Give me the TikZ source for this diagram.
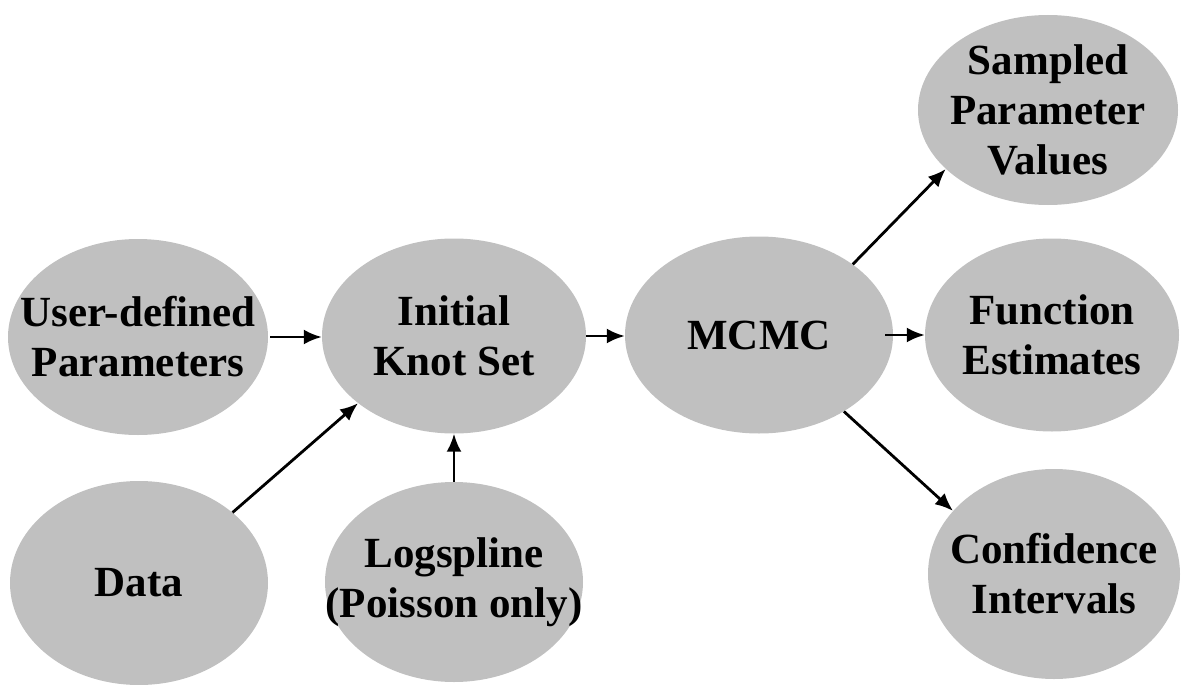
\documentclass[tikz,border=0pt]{standalone}
\usepackage{fontspec}
\setmainfont{Liberation Serif}
\usetikzlibrary{shapes.geometric,arrows.meta}
\definecolor{ellgray}{RGB}{192,192,192}
\tikzset{
  x=1pt,y=-1pt,
  blob/.style={ellipse,fill=ellgray,draw=none,inner sep=0pt},
  blobtext/.style={align=center,font=\fontsize{43}{50}\selectfont\bfseries,text=black},
  conn/.style={line width=2.8pt,-{Latex[length=18pt,width=15pt]},black},
}
\begin{document}
\begin{tikzpicture}
\useasboundingbox (0,0) rectangle (1181,685);
\node[blob,minimum width=260pt,minimum height=196pt,label={[blobtext]center:User-defined\\Parameters}] (user) at (138,337) {};
\node[blob,minimum width=264pt,minimum height=195pt,label={[blobtext]center:Initial\\Knot Set}] (init) at (454,336) {};
\node[blob,minimum width=268pt,minimum height=197pt,label={[blobtext]center:MCMC}] (mcmc) at (759,335) {};
\node[blob,minimum width=260pt,minimum height=190pt,label={[blobtext]center:Sampled\\Parameter\\Values}] (samp) at (1048,110) {};
\node[blob,minimum width=254pt,minimum height=193pt,label={[blobtext]center:Function\\Estimates}] (func) at (1052,335) {};
\node[blob,minimum width=252pt,minimum height=210pt,label={[blobtext]center:Confidence\\Intervals}] (conf) at (1054,574) {};
\node[blob,minimum width=258pt,minimum height=204pt,label={[blobtext]center:Data}] (data) at (139,583) {};
\node[blob,minimum width=258pt,minimum height=200pt,label={[blobtext]center:Logspline\\(Poisson only)}] (logs) at (454,582) {};
\draw[conn,shorten <=2pt] (user.east) -- (user.east -| init.west);
\draw[conn] (data.37) -- (init.215);
\draw[conn] (logs.north) -- (init.south);
\draw[conn] (init.east) -- (init.east -| mcmc.west);
\draw[conn] (mcmc.37) -- (samp.210);
\draw[conn,shorten <=-8pt] (mcmc.east) -- (func.west);
\draw[conn] (mcmc.-42) -- (conf.148);
\end{tikzpicture}
\end{document}
